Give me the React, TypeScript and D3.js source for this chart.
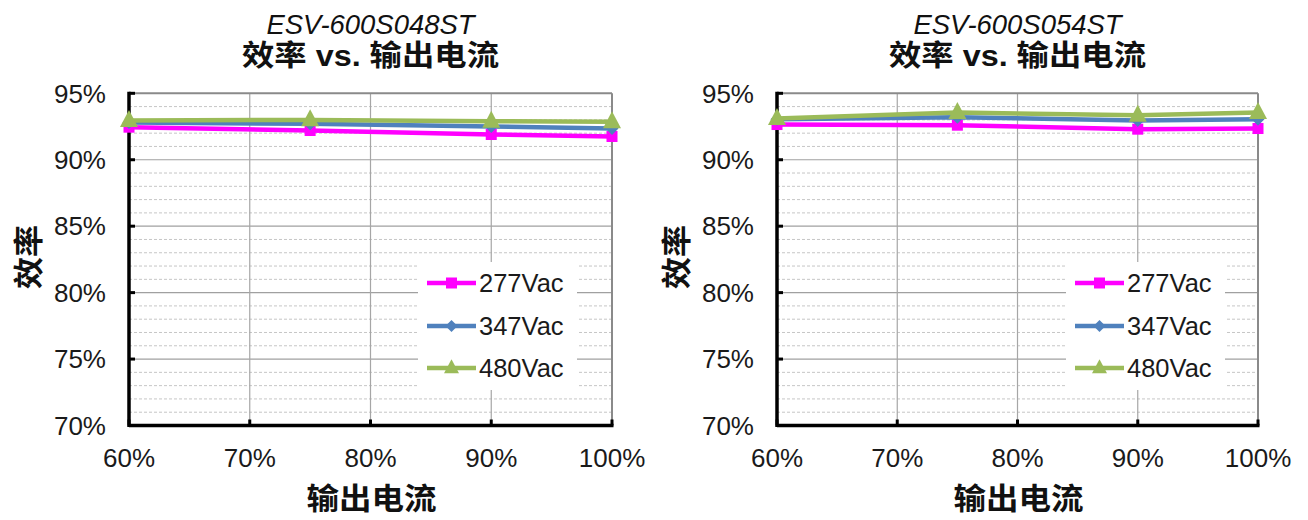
import React from "react";
import * as d3 from "d3";

const loadPoints = [60, 75, 90, 100];
const xTicks = [60, 70, 80, 90, 100];
const yMajorTicks = [70, 75, 80, 85, 90, 95];
const yMinorTicks = d3.range(71, 95).filter((v) => v % 5 !== 0);
const seriesNames = ["277Vac", "347Vac", "480Vac"];
const seriesColors = ["#FF00FF", "#4F81BD", "#9BBB59"];
const seriesMarkers = ["square", "diamond", "triangle"];

const modelA = "ESV-600S048ST";
const effA277 = [92.45, 92.2, 91.9, 91.75];
const effA347 = [92.8, 92.7, 92.5, 92.35];
const effA480 = [92.95, 93.0, 92.9, 92.85];

const modelB = "ESV-600S054ST";
const effB277 = [92.65, 92.6, 92.3, 92.35];
const effB347 = [93.05, 93.2, 92.95, 93.05];
const effB480 = [93.1, 93.55, 93.35, 93.55];

const titleText = "效率 vs. 输出电流";
const yTitle = "效率";
const xTitle = "输出电流";

const LATIN = "'Liberation Sans', Arial, sans-serif";
const MIXED = "'Liberation Sans', 'Noto Sans CJK SC', sans-serif";

function Marker({ kind, x, y, color, big }: { kind: string; x: number; y: number; color: string; big: boolean }) {
  if (kind === "square") {
    const s = 11;
    return <rect x={x - s / 2} y={y - s / 2} width={s} height={s} fill={color} />;
  }
  if (kind === "diamond") {
    const r = big ? 6.5 : 6;
    return <path d={`M${x},${y - r}L${x + r},${y}L${x},${y + r}L${x - r},${y}Z`} fill={color} />;
  }
  const w = big ? 18 : 15;
  const h = big ? 17 : 14;
  return (
    <path d={`M${x},${y - h * 0.62}L${x + w / 2},${y + h * 0.38}L${x - w / 2},${y + h * 0.38}Z`} fill={color} />
  );
}

function Panel({ x0, x1, model, data }: { x0: number; x1: number; model: string; data: number[][] }) {
  const yTop = 93.3;
  const yBot = 425.5;
  const x = d3.scaleLinear().domain([60, 100]).range([x0, x1]);
  const y = d3.scaleLinear().domain([70, 95]).range([yBot, yTop]);
  const cx = (x0 + x1) / 2;
  const line = d3
    .line<number>()
    .x((_, i) => x(loadPoints[i]))
    .y((d) => y(d));
  const lgX = x0 + 289;
  const lgRows = [283, 326, 368];

  return (
    <g>
      {/* titles */}
      <text x={cx} y={33.5} textAnchor="middle" fontFamily={LATIN} fontStyle="italic" fontSize={27} fill="#111"
        textLength={208} lengthAdjust="spacingAndGlyphs">
        {model}
      </text>
      <text x={cx} y={66} textAnchor="middle" fontFamily={MIXED} fontWeight="bold" fontSize={29} fill="#111"
        textLength={257} lengthAdjust="spacingAndGlyphs">
        {titleText}
      </text>

      {/* minor grid */}
      {yMinorTicks.map((v) => (
        <line key={"mn" + v} x1={x0} x2={x1} y1={y(v)} y2={y(v)} stroke="#c6c6c6" strokeWidth={1} strokeDasharray="3,2" />
      ))}
      {/* major grid */}
      {yMajorTicks.filter((v) => v > 70 && v < 95).map((v) => (
        <line key={"mj" + v} x1={x0} x2={x1} y1={y(v)} y2={y(v)} stroke="#a0a0a0" strokeWidth={1.2} />
      ))}
      {xTicks.filter((v) => v > 60 && v < 100).map((v) => (
        <line key={"vx" + v} x1={x(v)} x2={x(v)} y1={yTop} y2={yBot} stroke="#a6a6a6" strokeWidth={1.2} />
      ))}
      {/* top/right border */}
      <line x1={x0} x2={x1} y1={yTop} y2={yTop} stroke="#8a8a8a" strokeWidth={2} />
      <line x1={x1} x2={x1} y1={yTop} y2={yBot} stroke="#8a8a8a" strokeWidth={2} />

      {/* legend background */}
      <rect x={lgX} y={262} width={159} height={128} fill="#fff" />

      {/* axes */}
      <line x1={x0} x2={x0} y1={yTop - 1.5} y2={yBot + 1.5} stroke="#000" strokeWidth={3.5} />
      <line x1={x0} x2={x1 + 1.5} y1={yBot} y2={yBot} stroke="#000" strokeWidth={3.5} />
      {yMajorTicks.map((v) => (
        <line key={"yt" + v} x1={x0} x2={x0 + 6} y1={y(v)} y2={y(v)} stroke="#000" strokeWidth={3} />
      ))}
      {xTicks.map((v) => (
        <line key={"xt" + v} x1={x(v)} x2={x(v)} y1={yBot} y2={yBot - 6} stroke="#000" strokeWidth={3} />
      ))}

      {/* tick labels */}
      {yMajorTicks.map((v) => (
        <text key={"yl" + v} x={x0 - 23} y={y(v) + 9.3} textAnchor="end"
          fontFamily={LATIN} fontSize={26} fill="#1a1a1a">
          {v + "%"}
        </text>
      ))}
      {xTicks.map((v) => (
        <text key={"xl" + v} x={x(v)} y={467} textAnchor="middle"
          fontFamily={LATIN} fontSize={26} fill="#1a1a1a">
          {v + "%"}
        </text>
      ))}

      {/* axis titles */}
      <text transform={`translate(${x0 - 101},${257}) rotate(-90)`} textAnchor="middle" dominantBaseline="central"
        fontFamily={MIXED} fontWeight="bold" fontSize={30} fill="#111" textLength={64} lengthAdjust="spacingAndGlyphs">
        {yTitle}
      </text>
      <text x={cx + 1} y={509} textAnchor="middle" fontFamily={MIXED} fontWeight="bold" fontSize={30} fill="#111"
        textLength={130} lengthAdjust="spacingAndGlyphs">
        {xTitle}
      </text>

      {/* series */}
      {data.map((vals, si) => (
        <g key={"s" + si}>
          <path d={line(vals) || ""} fill="none" stroke={seriesColors[si]} strokeWidth={4.5} strokeLinejoin="round" />
          {vals.map((v, i) => (
            <Marker key={i} kind={seriesMarkers[si]} x={x(loadPoints[i])} y={y(v)} color={seriesColors[si]} big={true} />
          ))}
        </g>
      ))}

      {/* legend */}
      {seriesNames.map((n, si) => (
        <g key={"lg" + si}>
          <line x1={lgX + 9} x2={lgX + 58} y1={lgRows[si]} y2={lgRows[si]} stroke={seriesColors[si]} strokeWidth={4.5} />
          <Marker kind={seriesMarkers[si]} x={lgX + 33.5} y={lgRows[si]} color={seriesColors[si]} big={false} />
          <text x={lgX + 61} y={lgRows[si] + 9} fontFamily={LATIN} fontSize={25.5} fill="#1a1a1a">
            {n}
          </text>
        </g>
      ))}
    </g>
  );
}

export default function App() {
  return (
    <svg width={1308} height={520} style={{ position: "absolute", left: 0, top: 0, background: "#fff" }}>
      <rect width={1308} height={520} fill="#fff" />
      <Panel x0={129} x1={612} model={modelA} data={[effA277, effA347, effA480]} />
      <Panel x0={777} x1={1258} model={modelB} data={[effB277, effB347, effB480]} />
    </svg>
  );
}
